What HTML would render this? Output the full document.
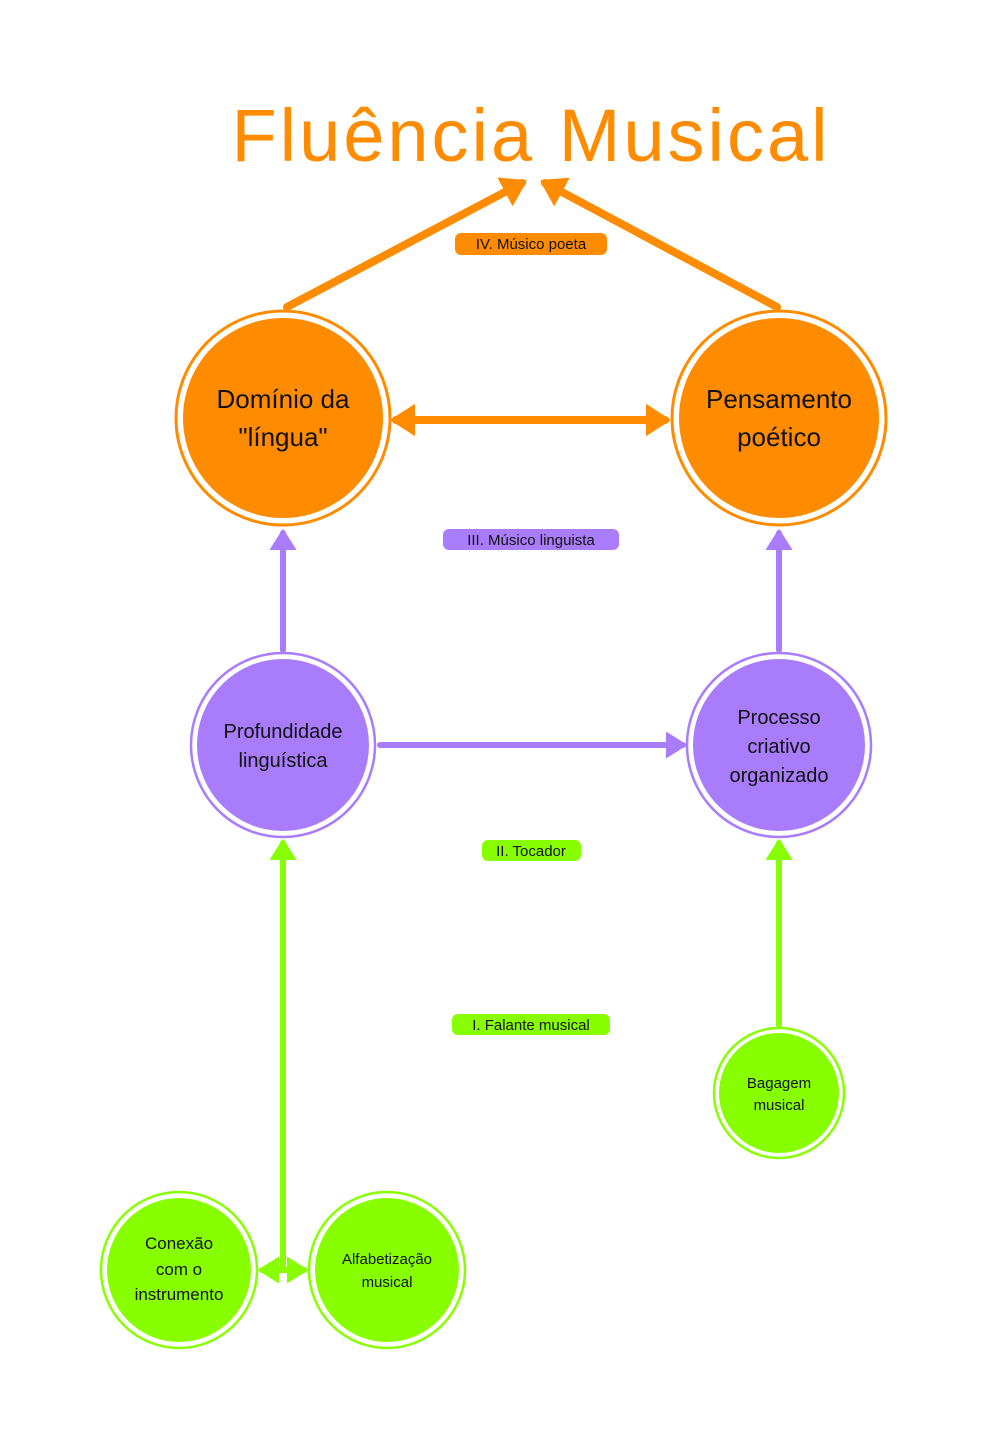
<!DOCTYPE html>
<html><head><meta charset="utf-8"><style>
body{margin:0;background:#fff}
svg text{font-family:"Liberation Sans","DejaVu Sans",sans-serif}
</style></head><body>
<svg width="1000" height="1450" viewBox="0 0 1000 1450" xmlns="http://www.w3.org/2000/svg">
<defs>
<marker id="ao" markerWidth="4" markerHeight="5" refX="2.4" refY="2" orient="auto-start-reverse" markerUnits="strokeWidth"><path d="M0,0.2 L2.8,2 L0,3.8 Z" fill="#ff8c00" stroke="#ff8c00" stroke-width="0.4" stroke-linejoin="round"/></marker>
<marker id="ap" markerWidth="5" markerHeight="5" refX="2.8" refY="2.2" orient="auto-start-reverse" markerUnits="strokeWidth"><path d="M0,0.2 L3.2,2.2 L0,4.2 Z" fill="#a97cfc" stroke="#a97cfc" stroke-width="0.4" stroke-linejoin="round"/></marker>
<marker id="ag" markerWidth="5" markerHeight="5" refX="2.8" refY="2.2" orient="auto-start-reverse" markerUnits="strokeWidth"><path d="M0,0.2 L3.2,2.2 L0,4.2 Z" fill="#88ff00" stroke="#88ff00" stroke-width="0.4" stroke-linejoin="round"/></marker>
</defs>
<text x="531" y="161" text-anchor="middle" font-size="74" fill="#ff8c00" letter-spacing="3">Fluência Musical</text>

<g stroke-linecap="round" fill="none">
<line x1="287" y1="307" x2="522" y2="183" stroke="#ff8c00" stroke-width="8" marker-end="url(#ao)"/>
<line x1="777" y1="307" x2="545" y2="183" stroke="#ff8c00" stroke-width="8" marker-end="url(#ao)"/>
<line x1="396" y1="420" x2="665" y2="420" stroke="#ff8c00" stroke-width="8" marker-end="url(#ao)" marker-start="url(#ao)"/>
<line x1="283" y1="650" x2="283" y2="533" stroke="#a97cfc" stroke-width="6" marker-end="url(#ap)"/>
<line x1="779" y1="650" x2="779" y2="533" stroke="#a97cfc" stroke-width="6" marker-end="url(#ap)"/>
<line x1="380" y1="745" x2="683" y2="745" stroke="#a97cfc" stroke-width="6" marker-end="url(#ap)"/>
<line x1="283" y1="1268" x2="283" y2="843" stroke="#88ff00" stroke-width="6" marker-end="url(#ag)"/>
<line x1="779" y1="1025" x2="779" y2="843" stroke="#88ff00" stroke-width="6" marker-end="url(#ag)"/>
<line x1="262" y1="1270" x2="304" y2="1270" stroke="#88ff00" stroke-width="6" marker-end="url(#ag)" marker-start="url(#ag)"/>
</g>

<g>
<circle cx="283" cy="418" r="107" fill="none" stroke="#ff8c00" stroke-width="3"/>
<circle cx="283" cy="418" r="100" fill="#ff8c00"/>
<circle cx="779" cy="418" r="107" fill="none" stroke="#ff8c00" stroke-width="3"/>
<circle cx="779" cy="418" r="100" fill="#ff8c00"/>
<circle cx="283" cy="745" r="92" fill="none" stroke="#a97cfc" stroke-width="2.5"/>
<circle cx="283" cy="745" r="86" fill="#a97cfc"/>
<circle cx="779" cy="745" r="92" fill="none" stroke="#a97cfc" stroke-width="2.5"/>
<circle cx="779" cy="745" r="86" fill="#a97cfc"/>
<circle cx="779" cy="1093" r="65" fill="none" stroke="#88ff00" stroke-width="2.5"/>
<circle cx="779" cy="1093" r="60" fill="#88ff00"/>
<circle cx="179" cy="1270" r="78" fill="none" stroke="#88ff00" stroke-width="2.5"/>
<circle cx="179" cy="1270" r="72" fill="#88ff00"/>
<circle cx="387" cy="1270" r="78" fill="none" stroke="#88ff00" stroke-width="2.5"/>
<circle cx="387" cy="1270" r="72" fill="#88ff00"/>
</g>

<g text-anchor="middle" fill="#111">
<text x="283" y="408" font-size="26">Domínio da</text>
<text x="283" y="446" font-size="26">"língua"</text>
<text x="779" y="408" font-size="26">Pensamento</text>
<text x="779" y="446" font-size="26">poético</text>
<text x="283" y="738" font-size="20">Profundidade</text>
<text x="283" y="767" font-size="20">linguística</text>
<text x="779" y="724" font-size="20">Processo</text>
<text x="779" y="753" font-size="20">criativo</text>
<text x="779" y="782" font-size="20">organizado</text>
<text x="779" y="1088" font-size="15">Bagagem</text>
<text x="779" y="1110" font-size="15">musical</text>
<text x="179" y="1249" font-size="17">Conexão</text>
<text x="179" y="1275" font-size="17">com o</text>
<text x="179" y="1300" font-size="17">instrumento</text>
<text x="387" y="1264" font-size="15">Alfabetização</text>
<text x="387" y="1287" font-size="15">musical</text>
</g>

<g font-size="15" fill="#111">
<rect x="455" y="233" width="152" height="22" rx="6" fill="#ff8c00"/>
<text x="531" y="249" text-anchor="middle">IV. Músico poeta</text>
<rect x="443" y="529" width="176" height="21" rx="6" fill="#a97cfc"/>
<text x="531" y="545" text-anchor="middle">III. Músico linguista</text>
<rect x="482" y="840" width="99" height="21" rx="6" fill="#88ff00"/>
<text x="531" y="856" text-anchor="middle">II. Tocador</text>
<rect x="452" y="1014" width="158" height="21" rx="6" fill="#88ff00"/>
<text x="531" y="1030" text-anchor="middle">I. Falante musical</text>
</g>
</svg>
</body></html>
